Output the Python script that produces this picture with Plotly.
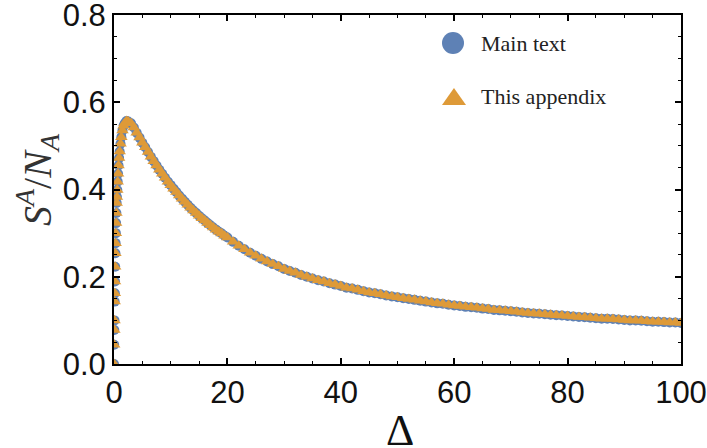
import plotly.graph_objects as go

# Delta values (x) and S^A/N_A values
delta_rise = [0.0, 0.03, 0.06, 0.09, 0.12, 0.15, 0.18, 0.21, 0.25, 0.29, 0.33, 0.37, 0.42,
              0.47, 0.52, 0.58, 0.65, 0.72, 0.8, 0.9, 1.0, 1.15, 1.3, 1.5, 1.7, 1.9, 2.2, 2.5]
s_rise = [0.0, 0.044, 0.078, 0.100, 0.143, 0.162, 0.189, 0.223, 0.254, 0.277, 0.300, 0.323, 0.346,
          0.369, 0.383, 0.399, 0.418, 0.436, 0.455, 0.472, 0.487, 0.505, 0.520, 0.535, 0.546, 0.552, 0.557, 0.556]

delta_mid = [3, 3.5, 4, 4.5, 5, 5.5, 6, 6.5, 7, 7.5, 8, 8.5, 9, 9.5, 10, 10.5, 11, 11.5,
             12, 12.5, 13, 13.5, 14, 14.5, 15, 15.5, 16, 16.5, 17, 17.5, 18, 18.5, 19, 19.5, 20]
s_mid = [0.552, 0.542, 0.530, 0.519, 0.507, 0.497, 0.486, 0.475, 0.465, 0.455, 0.445, 0.436,
         0.427, 0.418, 0.410, 0.402, 0.394, 0.386, 0.379, 0.372, 0.365, 0.358, 0.352, 0.346,
         0.340, 0.334, 0.329, 0.323, 0.318, 0.313, 0.308, 0.303, 0.299, 0.294, 0.290]

delta_tail = [21, 22, 23, 24, 25, 26, 27, 28, 29, 30, 31, 32, 33, 34, 35, 36, 37, 38, 39, 40,
              41, 42, 43, 44, 45, 46, 47, 48, 49, 50, 51, 52, 53, 54, 55, 56, 57, 58, 59, 60,
              61, 62, 63, 64, 65, 66, 67, 68, 69, 70, 71, 72, 73, 74, 75, 76, 77, 78, 79, 80,
              81, 82, 83, 84, 85, 86, 87, 88, 89, 90, 91, 92, 93, 94, 95, 96, 97, 98, 99, 100]
s_tail = [0.280, 0.271, 0.263, 0.255, 0.248, 0.241, 0.235, 0.229, 0.224, 0.218,
          0.213, 0.209, 0.204, 0.200, 0.196, 0.192, 0.189, 0.185, 0.182, 0.179,
          0.175, 0.173, 0.170, 0.167, 0.164, 0.162, 0.160, 0.157, 0.155, 0.153,
          0.151, 0.149, 0.147, 0.145, 0.143, 0.141, 0.139, 0.138, 0.136, 0.134,
          0.133, 0.131, 0.130, 0.129, 0.127, 0.126, 0.124, 0.123, 0.122, 0.121,
          0.120, 0.118, 0.117, 0.116, 0.115, 0.114, 0.113, 0.112, 0.111, 0.110,
          0.109, 0.108, 0.107, 0.106, 0.105, 0.104, 0.104, 0.103, 0.102, 0.101,
          0.100, 0.100, 0.099, 0.098, 0.097, 0.097, 0.096, 0.095, 0.095, 0.094]

delta_main = delta_rise + delta_mid + delta_tail
s_main = s_rise + s_mid + s_tail
delta_app = delta_rise + delta_mid + delta_tail
s_app = s_rise + s_mid + s_tail

series_names = ["Main text", "This appendix"]
blue = "#5E81B5"
orange = "#DE9A38"

# plot-area pixel geometry (for layout-only items)
L, R, T, B = 114, 681, 15, 364
W, H = R - L, B - T


def px(x):
    return (x - L) / W


def py(y):
    return (B - y) / H


fig = go.Figure()
fig.add_trace(go.Scatter(x=delta_main, y=s_main, mode="markers", name=series_names[0],
                         marker=dict(symbol="circle", size=10, color=blue, line=dict(width=0)),
                         showlegend=False))
fig.add_trace(go.Scatter(x=delta_app, y=s_app, mode="markers", name=series_names[1],
                         marker=dict(symbol="triangle-up", size=11, color=orange, line=dict(width=0)),
                         showlegend=False))

# legend drawn manually (large symbols)
fig.add_shape(type="circle", xref="paper", yref="paper",
              x0=px(442), x1=px(464), y0=py(54), y1=py(32),
              fillcolor=blue, line=dict(width=0))
fig.add_shape(type="path", xref="paper", yref="paper",
              path="M {:.4f} {:.4f} L {:.4f} {:.4f} L {:.4f} {:.4f} Z".format(
                  px(442), py(105), px(466), py(105), px(454), py(88)),
              fillcolor=orange, line=dict(width=0))
for name, yc in zip(series_names, [44, 97]):
    fig.add_annotation(text=name, xref="paper", yref="paper",
                       x=px(479), y=py(yc),
                       xanchor="left", yanchor="middle", showarrow=False,
                       font=dict(family="Liberation Serif", size=22, color="#222"))

# axis titles as annotations
fig.add_annotation(text="Δ", xref="paper", yref="paper", x=px(400), y=py(430),
                   xanchor="center", yanchor="middle", showarrow=False,
                   font=dict(family="Liberation Serif", size=44, color="#111"))
fig.add_annotation(text="<i>S</i><sup><i>A</i></sup>/<i>N</i><sub><i>A</i></sub>",
                   xref="paper", yref="paper", x=px(37), y=py(180), textangle=-90,
                   xanchor="center", yanchor="middle", showarrow=False,
                   font=dict(family="Liberation Serif", size=40, color="#333"))

axis_common = dict(showline=True, linecolor="black", linewidth=2, mirror="ticks",
                   ticks="inside", ticklen=6, tickwidth=1.5, tickcolor="black",
                   showgrid=False, zeroline=False, automargin=False,
                   ticklabeloverflow="allow",
                   tickfont=dict(family="Liberation Sans", size=31, color="#111"))

fig.update_xaxes(range=[0, 100], tickvals=[0, 20, 40, 60, 80, 100],
                 minor=dict(dtick=5, ticks="inside", ticklen=3, tickwidth=1, tickcolor="black"),
                 **axis_common)
fig.update_yaxes(range=[0, 0.8], tickvals=[0, 0.2, 0.4, 0.6, 0.8],
                 ticktext=["0.0", "0.2", "0.4", "0.6", "0.8"],
                 minor=dict(dtick=0.05, ticks="inside", ticklen=3, tickwidth=1, tickcolor="black"),
                 **axis_common)

fig.update_layout(width=707, height=448, margin=dict(l=L, r=707 - R, t=T, b=448 - B),
                  plot_bgcolor="white", paper_bgcolor="white", showlegend=False)

fig.write_html("out.html", config={"displayModeBar": False},
               post_script="document.body.style.margin='0';")
